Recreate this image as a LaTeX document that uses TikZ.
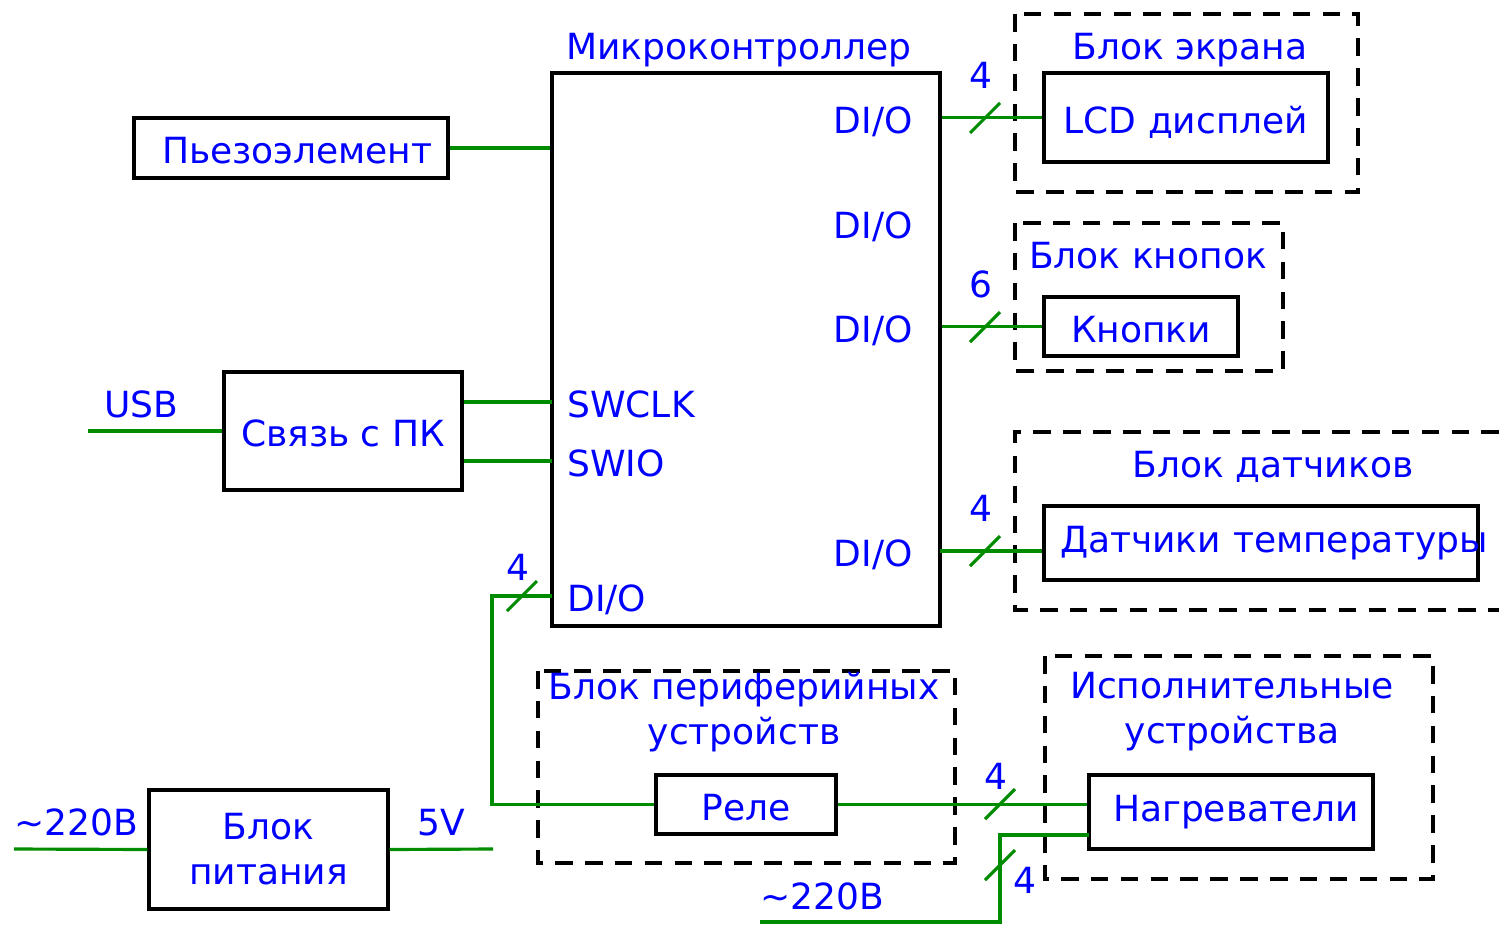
\documentclass[tikz,border=0pt]{standalone}
\usepackage{fontspec}
\setmainfont{DejaVu Sans}
\usetikzlibrary{positioning}
\usetikzlibrary{calc}
\definecolor{sigblue}{RGB}{0,0,255}
\definecolor{wiregreen}{RGB}{0,140,0}
\newcommand{\busslash}[1]{\draw[wire] ($(#1)+(-15,15)$) -- ($(#1)+(15,-15)$);}

\begin{document}
\begin{tikzpicture}[
    x=0.02cm, y=-0.02cm,
    block/.style={draw, line width=1.8pt, inner sep=0pt},
    line1/.style={text height=18pt, text depth=0pt},
    group/.style={draw, line width=1.8pt, dash pattern=on 10pt off 7pt},
    wire/.style={draw=wiregreen, line width=1.8pt},
    lbl/.style={text=sigblue, font=\fontsize{20.5}{25.5}\selectfont, inner sep=0pt}
]
    \useasboundingbox (0,0) rectangle (1499,924);

    % dashed groups
    \draw[group] (1015,14) rectangle (1358,192);
    \draw[group] (1015,223) rectangle (1283,371);
    \draw[group] (1499,432) -- (1015,432) -- (1015,610) -- (1499,610);
    \draw[group] (538,671) rectangle (955,863);
    \draw[group] (1045,656) rectangle (1433,879);

    \node[lbl, anchor=base] at (1190,59) {Блок экрана};
    \node[lbl, anchor=base] at (1148,268) {Блок кнопок};
    \node[lbl, anchor=base] at (1273,477) {Блок датчиков};
    \node[lbl, align=center] at (744,712) {Блок периферийных\\устройств};
    \node[lbl, align=center] at (1232,712) {Исполнительные\\устройства};

    % blocks
    \node[block, minimum width=7.76cm, minimum height=11.06cm] (mcu) at (746,349.5) {};
    \node[lbl, anchor=base] at (739,59) {Микроконтроллер};
    \node[block, lbl, line1, minimum width=6.28cm, minimum height=1.2cm] (piezo) at (291,148) {\hspace{0.25cm}Пьезоэлемент};
    \node[block, lbl, line1, minimum width=4.76cm, minimum height=2.36cm] (pc) at (343,431) {Связь с ПК};
    \node[block, lbl, line1, minimum width=5.68cm, minimum height=1.78cm] (lcd) at (1186,117.5) {LCD дисплей};
    \node[block, lbl, line1, minimum width=3.88cm, minimum height=1.18cm] (btn) at (1141,326.5) {Кнопки};
    \node[block, lbl, minimum height=1.48cm, text width=8.68cm, align=left] (sens) at (1261,543) {\mbox{\hspace{0.32cm}Датчики температуры}};
    \node[block, lbl, line1, minimum width=3.6cm, minimum height=1.18cm] (rele) at (746,804.5) {Реле};
    \node[block, lbl, minimum width=5.68cm, minimum height=1.48cm] (heat) at (1231,812) {\hspace{0.2cm}Нагреватели};
    \node[block, lbl, align=center, minimum width=4.78cm, minimum height=2.38cm] (pwr) at (268.5,849.5) {Блок\\питания};

    % pins
    \node[lbl, anchor=base east] at (913,133) {DI/O};
    \node[lbl, anchor=base east] at (913,238) {DI/O};
    \node[lbl, anchor=base east] at (913,342) {DI/O};
    \node[lbl, anchor=base east] at (913,566) {DI/O};
    \node[lbl, anchor=base west] at (567,417) {SWCLK};
    \node[lbl, anchor=base west] at (567,476) {SWIO};
    \node[lbl, anchor=base west] at (567,611) {DI/O};

    \coordinate (swclk) at (552,402);
    \coordinate (swio) at (552,461);
    \coordinate (dio4) at (940,551);
    \coordinate (dio5) at (552,596);
    \coordinate (usbin) at (88,431);
    \coordinate (mains1) at (14,849);
    \coordinate (out5v) at (493,849);
    \coordinate (mains2) at (760,922);
    \coordinate (heatin) at (1089,835);

    % wires
    \draw[wire] (piezo) -- (piezo -| mcu.west);
    \draw[wire] (swclk -| pc.east) -- (swclk);
    \draw[wire] (swio -| pc.east) -- (swio);
    \draw[wire] (usbin) -- (pc.west);
    \draw[wire] (lcd.west -| mcu.east) -- (lcd.west);
    \draw[wire] (btn.west -| mcu.east) -- (btn.west);
    \draw[wire] (dio4) -- (dio4 -| sens.west);
    \draw[wire] (dio5) -- ++(-60,0) |- (rele.west);
    \draw[wire] (rele) -- (rele -| heat.west);
    \draw[wire] (mains2) -- ++(240,0) |- (heatin);
    \draw[wire] (mains1) -- (pwr.west);
    \draw[wire] (pwr.east) -- (out5v);

    % bus widths
    \busslash{985,118}
    \busslash{985,327}
    \busslash{985,551}
    \busslash{522,596}
    \busslash{1000,804}
    \busslash{1000,865}
    \node[lbl, anchor=base] at (981,88) {4};
    \node[lbl, anchor=base] at (981,297) {6};
    \node[lbl, anchor=base] at (981,521) {4};
    \node[lbl, anchor=base] at (518,580) {4};
    \node[lbl, anchor=base] at (996,789) {4};
    \node[lbl, anchor=base] at (1025,893) {4};

    \node[lbl, anchor=base] at (141,417) {USB};
    \node[lbl, anchor=base] at (76,835) {\char"223C 220B};
    \node[lbl, anchor=base] at (441,835) {5V};
    \node[lbl, anchor=base] at (822,909) {\char"223C 220B};
\end{tikzpicture}
\end{document}
